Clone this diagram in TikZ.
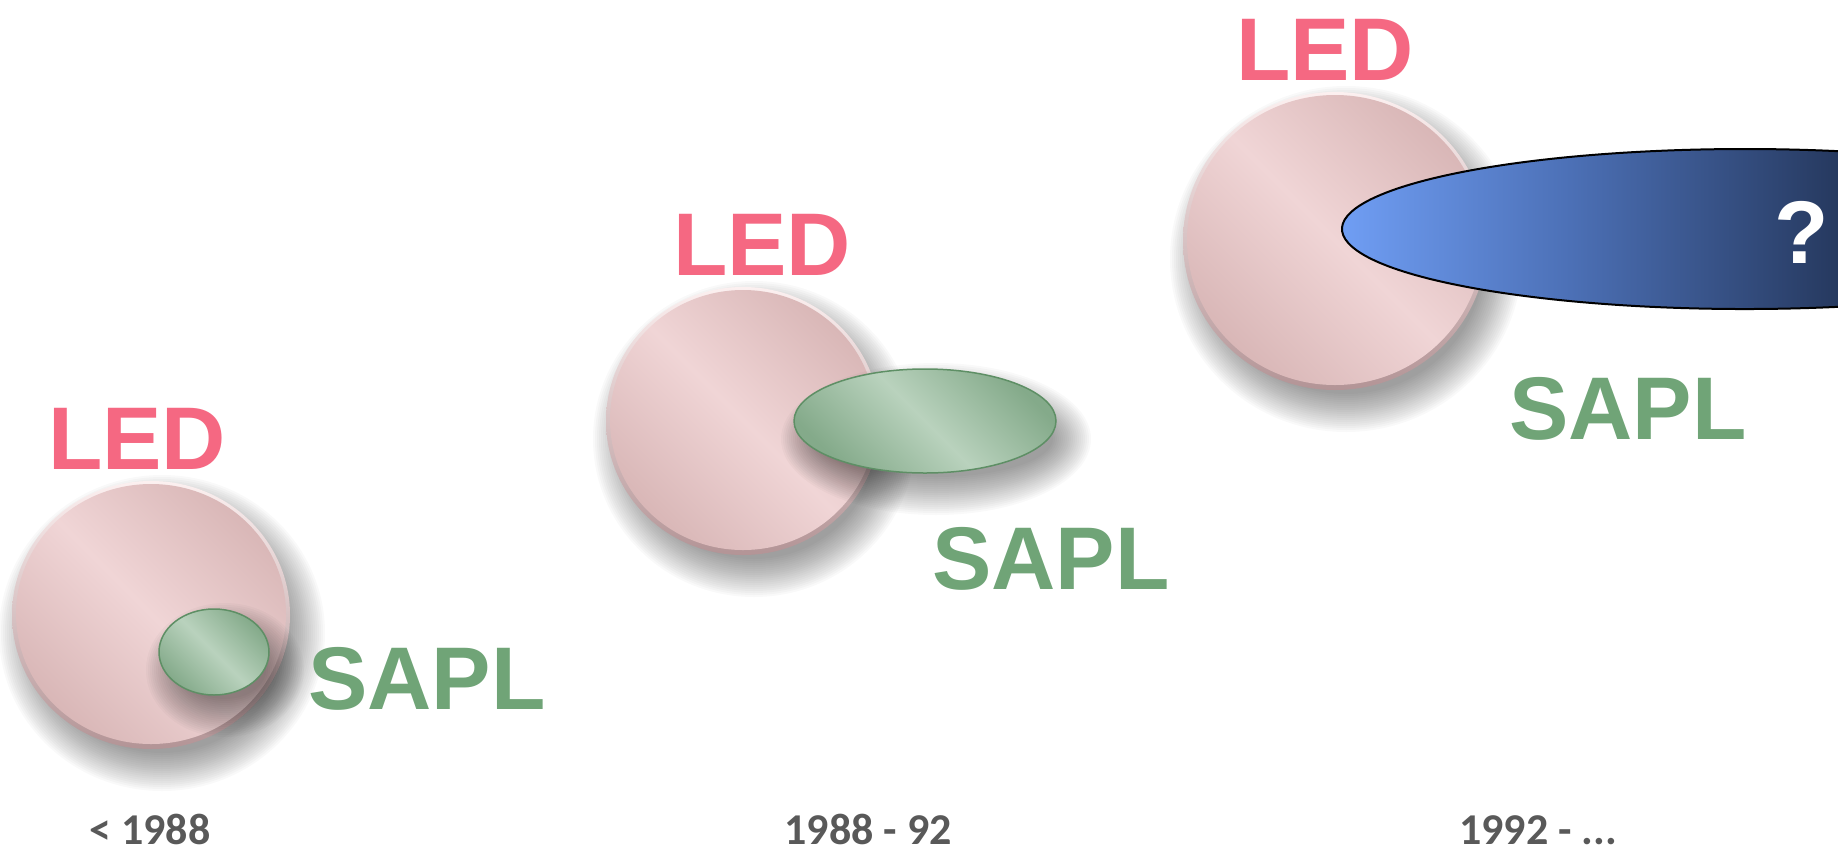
\documentclass[tikz,border=0pt]{standalone}
\usepackage{fontspec}
\setmainfont{Liberation Sans}
\newfontfamily\yearfont{Carlito}
\definecolor{ledpink}{HTML}{F56882}
\definecolor{saplgreen}{HTML}{70A477}
\definecolor{yeargray}{HTML}{595959}
\definecolor{pinkdark}{HTML}{D9B7B7}
\definecolor{pinklight}{HTML}{F0D5D6}
\definecolor{pinkrimtop}{HTML}{FCF0F0}
\definecolor{pinkrimbot}{HTML}{B39496}
\definecolor{greendark}{HTML}{84AA8A}
\definecolor{greenlight}{HTML}{B9D2BD}
\definecolor{greenedge}{HTML}{5E8F65}
\definecolor{blueleft}{HTML}{76A6FF}
\definecolor{bluemid}{HTML}{4C70B6}
\definecolor{blueright}{HTML}{26395F}
\newcommand\dropshadow[4]{%
  \foreach \i in {0,...,19}{%
    \pgfmathsetmacro\rxx{#3+24-2*\i}%
    \pgfmathsetmacro\ryy{#4+24-2*\i}%
    \fill[shadowlayer] (#1+11,#2+18) ellipse [x radius=\rxx, y radius=\ryy];%
  }%
}
\tikzset{
 bigtext/.style={font=\fontsize{89}{89}\selectfont\bfseries, inner sep=0pt, anchor=base},
 ledtext/.style={bigtext, text=ledpink},
 sapltext/.style={bigtext, text=saplgreen},
 yeartext/.style={font=\yearfont\fontsize{44}{44}\selectfont\bfseries, text=yeargray, inner sep=0pt, anchor=base, text depth=0pt},
 shadowlayer/.style={black, fill opacity=0.024},
 rim/.style={shading=axis, top color=pinkrimtop, bottom color=pinkrimbot},
 face/.style={shading=axis, top color=pinkdark, bottom color=pinkdark, middle color=pinklight, shading angle=-45},
 greenface/.style={shading=axis, top color=greendark, bottom color=greendark, middle color=greenlight, shading angle=-45, draw=greenedge, line width=1.5pt},
 bluefill/.style={shading=axis, left color=blueleft, right color=blueright, middle color=bluemid},
}
\begin{document}
\begin{tikzpicture}[x=1pt, y=-1pt]
\useasboundingbox (0,0) rectangle (1838,852);
% period 1
\dropshadow{151}{615}{139}{134}
\shade[rim] (151,615) ellipse [x radius=139, y radius=134];
\shade[face] (151,614) ellipse [x radius=135, y radius=130];
\dropshadow{214}{652}{55}{43}
\shadedraw[greenface] (214,652) ellipse [x radius=55, y radius=43];
\node[ledtext] (led1) at (137,469) {LED};
\node[sapltext] (sapl1) at (427,709) {SAPL};
\node[yeartext] (y1) at (150,844) {< 1988};
% period 2
\dropshadow{743}{421}{137}{134}
\shade[rim] (743,421) ellipse [x radius=137, y radius=134];
\shade[face] (743,420) ellipse [x radius=133, y radius=130];
\dropshadow{925}{421}{131}{52}
\shadedraw[greenface] (925,421) ellipse [x radius=131, y radius=52];
\node[ledtext] (led2) at (762,275) {LED};
\node[sapltext] (sapl2) at (1051,589) {SAPL};
\node[yeartext] (y2) at (868,844) {1988 - 92};
% period 3
\dropshadow{1335}{241}{152}{149}
\shade[rim] (1335,241) ellipse [x radius=152, y radius=149];
\shade[face] (1335,240) ellipse [x radius=148, y radius=145];
\shade[bluefill] (1838,306.84) arc[start angle=76.66, end angle=283.34, x radius=403, y radius=80] -- cycle;
\draw[line width=2pt, black] (1838,306.84) arc[start angle=76.66, end angle=283.34, x radius=403, y radius=80];
\node[bigtext, text=white] (q) at (1802,263) {?};
\node[ledtext] (led3) at (1325,80) {LED};
\node[sapltext] (sapl3) at (1628,439) {SAPL};
\node[yeartext] (y3) at (1538,844) {1992 - ...};
\end{tikzpicture}
\end{document}
